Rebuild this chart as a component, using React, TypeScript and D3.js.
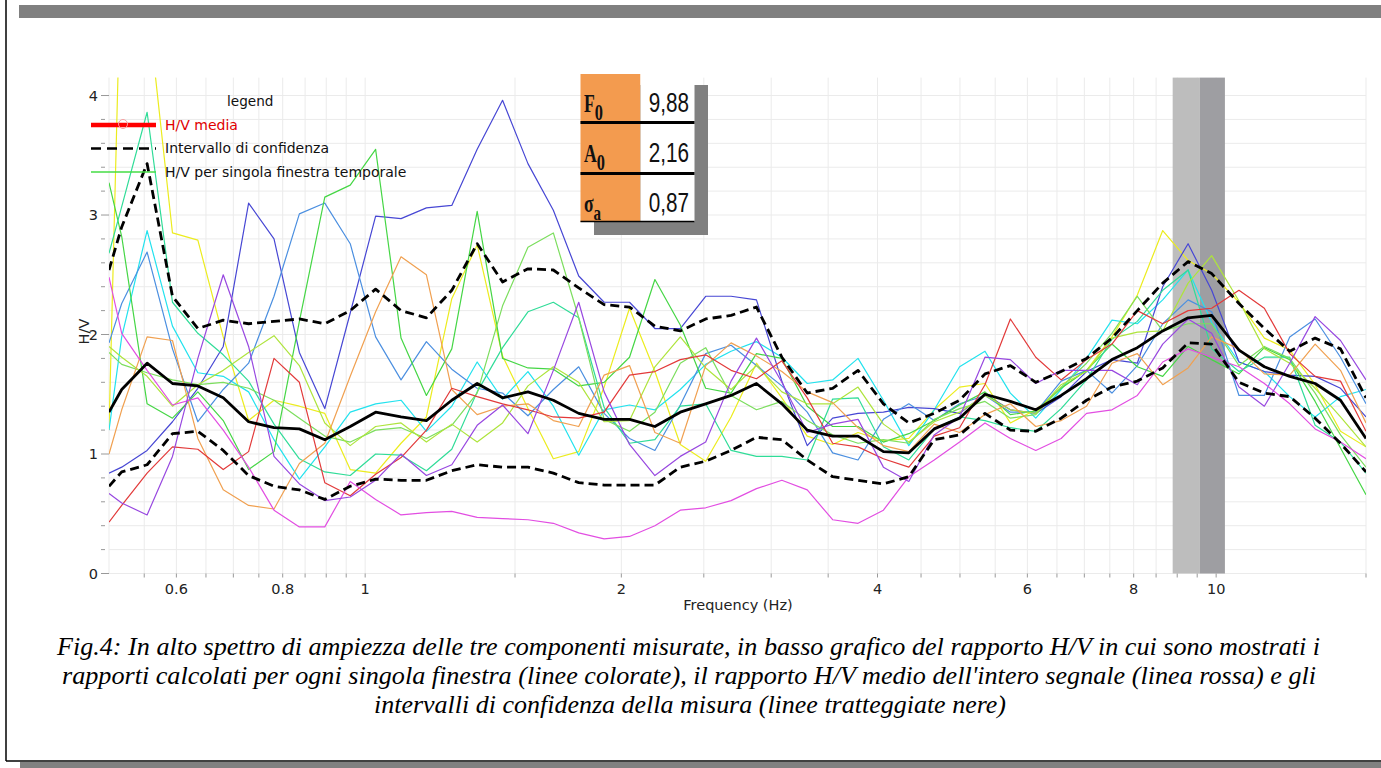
import React from "react";
import * as d3 from "d3";

// Frequency samples (Hz), log-spaced between 0.5 and 15 Hz
const frequencies = [
  0.5, 0.5175, 0.5543, 0.5937, 0.6359, 0.6811, 0.7295, 0.7814, 0.8369, 0.8965,
  0.9604, 1.0287, 1.1019, 1.1802, 1.2641, 1.354, 1.4503, 1.5534, 1.6639, 1.7822,
  1.909, 2.0447, 2.1901, 2.3459, 2.5127, 2.6914, 2.8828, 3.0878, 3.3074, 3.5426,
  3.7946, 4.0644, 4.3535, 4.6631, 4.9947, 5.3499, 5.7304, 6.1379, 6.5744, 7.042,
  7.5428, 8.0792, 8.6537, 9.2691, 9.88, 10.637, 11.393, 12.203, 13.071, 14.0, 15.0,
];

// Average H/V curve and its confidence interval
const meanHV = [
  1.35, 1.54, 1.76, 1.59, 1.57, 1.47, 1.27, 1.22, 1.21, 1.12, 1.23, 1.35, 1.31, 1.28, 1.45, 1.59, 1.47,
  1.52, 1.45, 1.34, 1.29, 1.29, 1.23, 1.35, 1.42, 1.49, 1.59, 1.42, 1.2, 1.15, 1.15, 1.02, 1.01, 1.21,
  1.3, 1.5, 1.44, 1.37, 1.49, 1.63, 1.79, 1.89, 2.03, 2.14, 2.16, 1.87, 1.73, 1.65, 1.59, 1.45, 1.13,
];
const upperCI = [
  2.54, 2.9, 3.43, 2.32, 2.05, 2.12, 2.09, 2.11, 2.13, 2.09, 2.2, 2.38, 2.2, 2.14, 2.37, 2.76, 2.44,
  2.55, 2.54, 2.39, 2.25, 2.23, 2.07, 2.03, 2.13, 2.16, 2.23, 1.81, 1.51, 1.55, 1.7, 1.42, 1.26, 1.34,
  1.45, 1.67, 1.74, 1.6, 1.69, 1.8, 1.97, 2.2, 2.43, 2.61, 2.51, 2.26, 2.05, 1.86, 1.97, 1.88, 1.47,
];
const lowerCI = [
  0.73, 0.85, 0.91, 1.17, 1.19, 1.03, 0.82, 0.73, 0.7, 0.62, 0.73, 0.79, 0.78, 0.78, 0.86, 0.91, 0.89,
  0.89, 0.84, 0.76, 0.74, 0.74, 0.74, 0.89, 0.94, 1.03, 1.14, 1.12, 0.95, 0.81, 0.78, 0.75, 0.81, 1.12,
  1.16, 1.34, 1.2, 1.19, 1.3, 1.45, 1.56, 1.61, 1.72, 1.93, 1.92, 1.6, 1.51, 1.48, 1.3, 1.09, 0.85,
];

// H/V ratio of each single time window
const window01 = [
  1.2, 5.4, 4.8, 2.85, 2.79, 1.98, 1.28, 1.45, 1.4, 1.34, 0.87, 0.84, 1.09, 1.31, 2.3, 2.75, 1.82,
  1.38, 0.96, 1.02, 1.56, 2.22, 1.69, 1.08, 0.94, 1.31, 1.76, 1.47, 1.15, 1.08, 1.18, 1.11, 1.13, 1.37,
  1.56, 1.59, 1.26, 1.37, 1.55, 1.7, 1.98, 2.33, 2.87, 2.62, 2.51, 2.27, 1.97, 1.87, 1.58, 1.19, 1.06,
];
const window02 = [
  1.2, 1.98, 2.87, 2.07, 1.68, 1.65, 1.52, 1.12, 0.79, 1.06, 1.35, 1.42, 1.45, 1.19, 1.4, 1.77, 1.46,
  1.69, 1.4, 0.99, 1.37, 1.41, 1.37, 1.54, 1.75, 1.86, 1.94, 1.81, 1.59, 1.62, 1.8, 1.45, 1.07, 1.37,
  1.73, 1.86, 1.51, 1.3, 1.54, 1.8, 2.12, 2.09, 2.29, 2.54, 2.1, 1.77, 1.69, 1.48, 1.31, 1.48, 1.54,
];
const window03 = [
  0.84, 0.89, 1.03, 1.27, 1.55, 1.9, 3.1, 2.8, 1.85, 1.38, 2.18, 2.99, 2.97, 3.06, 3.08, 3.55, 3.96,
  3.43, 3.04, 2.49, 2.27, 2.27, 2.05, 2.05, 2.32, 2.32, 2.29, 1.61, 1.07, 1.3, 1.34, 1.35, 1.39, 1.38,
  1.34, 1.5, 1.37, 1.34, 1.48, 1.69, 1.79, 1.76, 2.4, 2.76, 2.37, 1.77, 1.69, 1.66, 1.65, 1.55, 1.31,
];
const window04 = [
  1.93, 2.26, 2.69, 1.88, 1.27, 1.54, 1.76, 2.32, 3.01, 3.1, 2.76, 1.98, 1.62, 1.94, 1.71, 1.55, 1.51,
  1.32, 1.54, 1.73, 1.34, 1.13, 1.03, 1.41, 1.84, 1.91, 1.74, 1.57, 1.35, 1.01, 0.95, 1.29, 1.42, 1.28,
  1.42, 1.49, 1.35, 1.35, 1.61, 1.7, 1.51, 1.74, 2.09, 2.29, 2.19, 1.49, 1.49, 1.98, 2.13, 1.81, 1.42,
];
const window05 = [
  3.27, 2.82, 1.42, 1.3, 1.52, 1.28, 0.87, 1.02, 2.11, 3.15, 3.25, 3.55, 1.97, 1.49, 1.88, 3.03, 1.8,
  1.72, 1.71, 1.57, 1.6, 1.81, 2.46, 2.08, 1.55, 1.51, 1.84, 1.8, 1.4, 1.23, 1.23, 1.1, 1.17, 1.28,
  1.41, 1.52, 1.33, 1.36, 1.55, 1.7, 1.92, 1.73, 1.65, 1.9, 1.79, 1.67, 1.89, 1.79, 1.44, 1.05, 0.66,
];
const window06 = [
  2.68, 3.07, 3.86, 2.27, 2.01, 1.83, 1.61, 1.25, 0.96, 0.85, 0.82, 1.0, 0.99, 0.86, 1.04, 1.52, 1.89,
  2.19, 2.27, 2.14, 1.39, 1.09, 1.12, 1.4, 1.42, 1.03, 0.98, 0.98, 0.95, 1.46, 1.47, 1.06, 0.95, 1.21,
  1.31, 1.28, 1.22, 1.19, 1.38, 1.62, 1.96, 2.11, 2.37, 2.54, 1.88, 1.69, 1.81, 1.81, 1.24, 1.1, 0.84,
];
const window07 = [
  1.85, 1.75, 1.68, 1.62, 1.58, 1.6, 1.55, 1.45, 1.3, 1.15, 1.1, 1.2, 1.22, 1.13, 1.24, 1.51, 2.24,
  2.73, 2.85, 2.14, 1.29, 1.19, 1.35, 1.76, 1.89, 1.49, 1.37, 1.44, 1.28, 1.16, 1.09, 1.12, 1.09, 1.29,
  1.38, 1.44, 1.3, 1.33, 1.56, 1.76, 2.01, 2.32, 2.03, 2.09, 2.09, 1.74, 1.9, 1.8, 1.51, 1.16, 0.89,
];
const window08 = [
  1.9, 1.81, 1.65, 1.4, 1.58, 1.7, 1.85, 1.99, 1.74, 1.26, 1.07, 1.23, 1.26, 1.1, 1.25, 1.1, 1.26,
  1.57, 1.73, 1.6, 1.27, 1.28, 1.73, 1.98, 1.72, 1.54, 1.74, 1.52, 1.42, 1.42, 1.56, 1.25, 1.1, 1.27,
  1.35, 1.49, 1.37, 1.34, 1.58, 1.69, 1.97, 2.02, 2.03, 2.43, 2.66, 2.28, 1.88, 1.76, 1.55, 1.31, 1.06,
];
const window09 = [
  1.0, 1.37, 1.98, 1.95, 1.13, 0.7, 0.57, 0.54, 0.92, 1.09, 1.65, 2.19, 2.65, 2.5, 1.54, 1.33, 1.4,
  1.42, 1.28, 1.23, 1.66, 1.74, 1.18, 1.09, 1.74, 1.93, 1.82, 1.69, 1.52, 1.43, 1.22, 1.07, 1.02, 1.25,
  1.18, 1.33, 1.42, 1.23, 1.28, 1.4, 1.76, 1.84, 1.58, 1.72, 1.98, 1.88, 1.67, 1.66, 1.92, 1.7, 1.26,
];
const window10 = [
  0.43, 0.57, 0.84, 1.06, 1.04, 0.87, 1.02, 1.8, 1.6, 0.76, 0.65, 0.83, 0.97, 1.2, 1.55, 1.48, 1.42,
  1.37, 1.31, 1.3, 1.35, 1.66, 1.69, 1.79, 1.83, 1.7, 1.63, 1.78, 1.47, 1.09, 1.06, 0.96, 0.89, 1.15,
  1.22, 1.58, 2.13, 1.81, 1.62, 1.79, 1.92, 2.2, 2.09, 2.2, 2.22, 2.37, 2.22, 1.84, 1.65, 1.61, 1.19,
];
const window11 = [
  2.48, 2.01, 1.7, 1.41, 1.47, 1.2, 0.89, 0.53, 0.39, 0.39, 0.77, 0.62, 0.49, 0.51, 0.52, 0.47, 0.46,
  0.45, 0.42, 0.34, 0.29, 0.31, 0.4, 0.53, 0.55, 0.61, 0.71, 0.78, 0.7, 0.45, 0.42, 0.53, 0.81, 0.95,
  1.1, 1.26, 1.13, 1.03, 1.13, 1.34, 1.37, 1.49, 1.77, 1.88, 1.81, 1.73, 1.59, 1.42, 1.21, 1.1, 0.96,
];
const window12 = [
  0.67, 0.59, 0.49, 0.98, 1.8, 2.5, 1.9, 0.98, 0.75, 0.61, 0.64, 0.78, 1.0, 0.82, 0.91, 1.24, 1.41,
  1.17, 1.7, 2.27, 1.52, 1.08, 0.82, 0.98, 1.1, 1.61, 1.97, 1.6, 1.18, 1.25, 1.29, 0.89, 0.77, 1.16,
  1.31, 1.81, 1.79, 1.59, 1.7, 1.7, 1.7, 1.58, 1.92, 2.13, 2.01, 1.56, 1.4, 1.76, 2.15, 1.95, 1.62,
];

// Peak frequency ranges (Hz): [from, to]
const peakRangeOuter = [8.89, 9.57];
const peakRangeInner = [9.57, 10.24];

// Peak summary
const peakF0 = 9.88;
const peakA0 = 2.16;
const sigmaA = 0.87;

// Axis labels
const xTickLabels = [0.6, 0.8, 1, 2, 4, 6, 8, 10];
const yTickLabels = [0, 1, 2, 3, 4];

const captionLines = [
  "Fig.4: In alto spettro di ampiezza delle tre componenti misurate, in basso grafico del rapporto H/V in cui sono mostrati i",
  "rapporti calcolati per ogni singola finestra (linee colorate), il rapporto H/V medio dell'intero segnale (linea rossa) e gli",
  "intervalli di confidenza della misura (linee tratteggiate nere)",
];

const windows = [
  window01, window02, window03, window04, window05, window06,
  window07, window08, window09, window10, window11, window12,
];
const windowColors = [
  "#ecec1e", "#22e2ee", "#4747d4", "#4b8fe0", "#45d645", "#30dc98",
  "#7cde5e", "#aee43c", "#f0a050", "#e23a3a", "#e24ee2", "#9848e0",
];

const SANS = "'DejaVu Sans', Verdana, sans-serif";
const SERIF = "'Liberation Serif', 'Times New Roman', serif";
const fmt = (v: number) => v.toFixed(2).replace(".", ",");

export default function App() {
  const W = 1381;
  const H = 768;
  const L = 109;
  const R = 1366;
  const T = 77.6;
  const B = 573.5;

  const x = d3.scaleLog().domain([0.5, 15]).range([L, R]);
  const y = d3.scaleLinear().domain([0, 4.15]).range([B, T]);

  const line = d3
    .line<number>()
    .x((_, i) => x(frequencies[i]))
    .y((v) => y(v));

  const yMinor = d3.range(0, 4.001, 0.2);
  const xGrid = [
    0.5,
    ...d3.range(0.55, 0.999, 0.05),
    ...d3.range(1, 10.001, 0.5),
    15,
  ];

  const tableRows = [
    { sym: "F", sub: "0", value: fmt(peakF0) },
    { sym: "A", sub: "0", value: fmt(peakA0) },
    { sym: "σ", sub: "a", value: fmt(sigmaA) },
  ];

  return (
    <div style={{ position: "absolute", left: 0, top: 0 }}>
      <svg width={W} height={H} viewBox={`0 0 ${W} ${H}`} style={{ display: "block", background: "#fff" }}>
        <defs>
          <clipPath id="plot-area">
            <rect x={L} y={T} width={R - L} height={B - T} />
          </clipPath>
        </defs>

        {/* page frame */}
        <rect x={19} y={5} width={W - 19} height={13} fill="#808080" />
        <line x1={6} y1={0} x2={6} y2={761} stroke="#000" strokeWidth={1.5} />
        <line x1={6} y1={761} x2={W} y2={761} stroke="#000" strokeWidth={1.5} />
        <rect x={20} y={762} width={W - 20} height={6} fill="#808080" />

        {/* grid */}
        <g stroke="#ebebeb" strokeWidth={1}>
          {yMinor.map((v) => (
            <line key={`hg${v}`} x1={L} x2={R} y1={y(v)} y2={y(v)} />
          ))}
          {xGrid.map((f) => (
            <line key={`vg${f}`} x1={x(f)} x2={x(f)} y1={T} y2={B} />
          ))}
        </g>

        {/* peak frequency bands */}
        <rect
          x={x(peakRangeOuter[0])}
          y={T}
          width={x(peakRangeOuter[1]) - x(peakRangeOuter[0])}
          height={B - T}
          fill="#bdbdbd"
        />
        <rect
          x={x(peakRangeInner[0])}
          y={T}
          width={x(peakRangeInner[1]) - x(peakRangeInner[0])}
          height={B - T}
          fill="#9e9ea2"
        />

        {/* curves */}
        <g clipPath="url(#plot-area)" fill="none" strokeLinejoin="round">
          {windows.map((w, i) => (
            <path key={`w${i}`} d={line(w) ?? ""} stroke={windowColors[i]} strokeWidth={1.2} />
          ))}
          <path d={line(upperCI) ?? ""} stroke="#000" strokeWidth={2.8} strokeDasharray="9 5" />
          <path d={line(lowerCI) ?? ""} stroke="#000" strokeWidth={2.8} strokeDasharray="9 5" />
          <path d={line(meanHV) ?? ""} stroke="#000" strokeWidth={2.8} />
        </g>

        {/* y axis */}
        <g fontFamily={SANS} fontSize={14.5} fill="#222">
          {yMinor.map((v) => {
            const major = Math.abs(v - Math.round(v)) < 1e-6;
            return (
              <line
                key={`yt${v}`}
                x1={101}
                x2={major ? 109 : 105}
                y1={y(v)}
                y2={y(v)}
                stroke="#999"
                strokeWidth={1}
              />
            );
          })}
          {yTickLabels.map((v) => (
            <text key={`yl${v}`} x={98} y={y(v) + 5} textAnchor="end">
              {v}
            </text>
          ))}
          <text transform={`translate(89,${(T + B) / 2 + 6}) rotate(-90)`} textAnchor="middle">
            H/V
          </text>
        </g>

        {/* x axis */}
        <g fontFamily={SANS} fontSize={14.5} fill="#222">
          {xGrid.slice(1).map((f) => (
            <line key={`xt${f}`} x1={x(f)} x2={x(f)} y1={B} y2={B + 4} stroke="#999" strokeWidth={1} />
          ))}
          {xTickLabels.map((f) => (
            <text key={`xl${f}`} x={x(f)} y={594} textAnchor="middle">
              {f}
            </text>
          ))}
          <text x={738} y={610} textAnchor="middle">
            Frequency (Hz)
          </text>
        </g>

        {/* legend */}
        <g fontFamily={SANS} fontSize={14}>
          <text x={227} y={106} fill="#111" fontSize={13.6}>
            legend
          </text>
          <line x1={91} x2={156} y1={125} y2={125} stroke="#f00" strokeWidth={4.5} />
          <circle cx={123} cy={124} r={4.5} fill="none" stroke="#f4a0a0" strokeWidth={1} />
          <text x={165} y={130} fill="#e00000">
            H/V media
          </text>
          <line x1={91} x2={156} y1={148.5} y2={148.5} stroke="#000" strokeWidth={2.6} strokeDasharray="10 6" />
          <text x={165} y={153} fill="#111">
            Intervallo di confidenza
          </text>
          <line x1={91} x2={156} y1={172} y2={172} stroke="#45dd45" strokeWidth={1.5} />
          <text x={165} y={177} fill="#111">
            H/V per singola finestra temporale
          </text>
        </g>

        {/* peak summary table */}
        <g>
          <rect x={594} y={85} width={114} height={150} fill="#808080" />
          <rect x={580.5} y={74} width={60} height={148} fill="#f39b4f" />
          <rect x={640.5} y={74} width={54} height={148} fill="#ffffff" />
          <line x1={580.5} x2={694.5} y1={122.5} y2={122.5} stroke="#000" strokeWidth={3} />
          <line x1={580.5} x2={694.5} y1={173.5} y2={173.5} stroke="#000" strokeWidth={3} />
          <line x1={580.5} x2={694.5} y1={221.5} y2={221.5} stroke="#000" strokeWidth={1.5} />
          {tableRows.map((r, i) => {
            const base = 112 + i * 50;
            return (
              <g key={r.sym}>
                <text
                  transform={`translate(584,${base}) scale(0.68,1)`}
                  fontFamily={SERIF}
                  fontWeight="bold"
                  fontSize={26}
                  fill="#111"
                >
                  {r.sym}
                  <tspan dy={8} fontSize={r.sub === "a" ? 22 : 24}>
                    {r.sub}
                  </tspan>
                </text>
                <text
                  transform={`translate(689,${base}) scale(0.74,1)`}
                  fontFamily="'Liberation Sans', Arial, sans-serif"
                  fontSize={28}
                  textAnchor="end"
                  fill="#111"
                >
                  {r.value}
                </text>
              </g>
            );
          })}
        </g>

        {/* caption */}
        <g fontFamily={SERIF} fontStyle="italic" fontSize={25} fill="#000">
          <text x={57} y={655} textLength={1263} lengthAdjust="spacingAndGlyphs">
            {captionLines[0]}
          </text>
          <text x={62} y={684} textLength={1254} lengthAdjust="spacingAndGlyphs">
            {captionLines[1]}
          </text>
          <text x={374} y={713} textLength={632} lengthAdjust="spacingAndGlyphs">
            {captionLines[2]}
          </text>
        </g>
      </svg>
    </div>
  );
}
